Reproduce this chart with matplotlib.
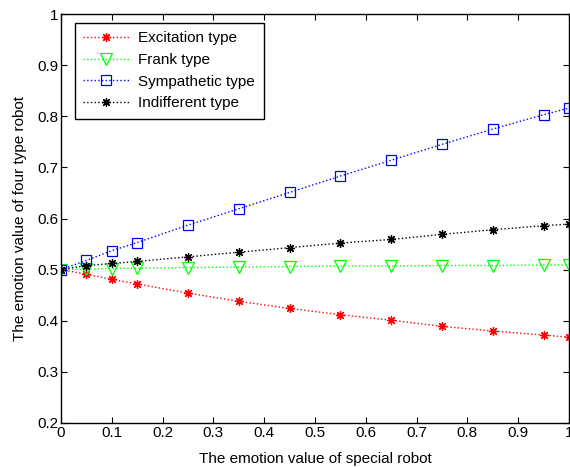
import matplotlib
matplotlib.use("Agg")
import matplotlib.pyplot as plt

plt.rcParams['font.family'] = ['Liberation Sans', 'DejaVu Sans']

x = [0, 0.05, 0.1, 0.15, 0.25, 0.35, 0.45, 0.55, 0.65, 0.75, 0.85, 0.95, 1.0]
excitation = [0.5, 0.491, 0.481, 0.472, 0.454, 0.438, 0.424, 0.412, 0.401, 0.389, 0.380, 0.372, 0.368]
frank = [0.5, 0.501, 0.502, 0.503, 0.504, 0.505, 0.506, 0.507, 0.507, 0.508, 0.508, 0.509, 0.509]
sympathetic = [0.5, 0.518, 0.537, 0.553, 0.587, 0.619, 0.651, 0.683, 0.714, 0.745, 0.775, 0.803, 0.816]
indifferent = [0.5, 0.508, 0.512, 0.516, 0.525, 0.534, 0.543, 0.552, 0.559, 0.569, 0.578, 0.586, 0.589]

labels = ['Excitation type', 'Frank type', 'Sympathetic type', 'Indifferent type']
xticks = [0, 0.1, 0.2, 0.3, 0.4, 0.5, 0.6, 0.7, 0.8, 0.9, 1]
xticklabels = ['0', '0.1', '0.2', '0.3', '0.4', '0.5', '0.6', '0.7', '0.8', '0.9', '1']
yticks = [0.2, 0.3, 0.4, 0.5, 0.6, 0.7, 0.8, 0.9, 1]
yticklabels = ['0.2', '0.3', '0.4', '0.5', '0.6', '0.7', '0.8', '0.9', '1']

fig = plt.figure(figsize=(5.7, 4.67), dpi=100)
ax = fig.add_axes([61/570, 1-423/467, 508/570, (423-14)/467])

ast = (8, 2, 0)
ax.plot(x, excitation, ':', color='red', marker=ast, markersize=6.5, markeredgewidth=0.9, linewidth=1, label=labels[0])
ax.plot(x, frank, ':', color=(0, 1, 0), marker='v', markersize=9, markerfacecolor='none', markeredgewidth=0.9, linewidth=1, label=labels[1])
ax.plot(x, sympathetic, ':', color='blue', marker='s', markersize=7.5, markerfacecolor='none', markeredgewidth=0.9, linewidth=1, label=labels[2])
ax.plot(x, indifferent, ':', color='black', marker=ast, markersize=6.5, markeredgewidth=0.9, linewidth=1, label=labels[3])

ax.set_xlim(0, 1)
ax.set_ylim(0.2, 1)
ax.set_xticks(xticks)
ax.set_xticklabels(xticklabels)
ax.set_yticks(yticks)
ax.set_yticklabels(yticklabels)
ax.tick_params(direction='in', top=True, right=True, labelsize=11, length=4, pad=2)
for s in ax.spines.values():
    s.set_linewidth(1.0)
ax.set_xlabel('The emotion value of special robot', fontsize=11, labelpad=9)
ax.set_ylabel('The emotion value of four type robot', fontsize=11, labelpad=7)

leg = ax.legend(loc='upper left', bbox_to_anchor=(0.0276, 0.978), borderaxespad=0, fontsize=11, frameon=True,
                fancybox=False, edgecolor='black', framealpha=1, handlelength=3.0,
                borderpad=0.55, labelspacing=0.5, handletextpad=0.6)
leg.get_frame().set_linewidth(1.0)

fig.savefig('out.png', dpi=100)
